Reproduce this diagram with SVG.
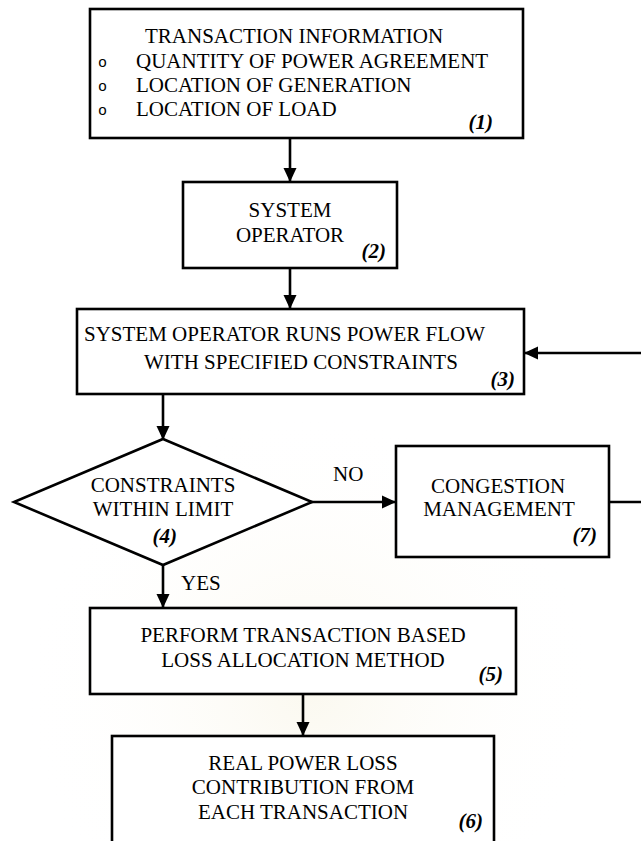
<svg xmlns="http://www.w3.org/2000/svg" width="641" height="841" viewBox="0 0 641 841">
  <defs>
    <style>
      .box { fill: #ffffff; stroke: #000000; stroke-width: 2.6; }
      .t { font-family: "Liberation Serif", "Times New Roman", serif; font-size: 21px; fill: #000000; }
      .c { text-anchor: middle; }
      .n { font-family: "Liberation Serif", "Times New Roman", serif; font-size: 21px; font-weight: bold; font-style: italic; text-anchor: end; fill: #000000; }
      .bul { font-family: "Liberation Mono", "Courier New", monospace; font-size: 15px; fill: #000000; }
      .link { fill: none; stroke: #000000; stroke-width: 2.6; }
    </style>
    <marker id="arrow" markerUnits="userSpaceOnUse" markerWidth="16" markerHeight="14" refX="14" refY="7" orient="auto">
      <path d="M0,0.5 L14,7 L0,13.5 Z" fill="#000000"/>
    </marker>
    <radialGradient id="seal" cx="0.5" cy="0.5" r="0.5">
      <stop offset="0" stop-color="#f5efd8" stop-opacity="0.4"/>
      <stop offset="1" stop-color="#ffffff" stop-opacity="0"/>
    </radialGradient>
  </defs>

  <rect x="0" y="0" width="641" height="841" fill="#ffffff"/>
  <!-- faint background seal -->
  <ellipse cx="310" cy="690" rx="290" ry="280" fill="url(#seal)"/>

  <!-- connectors -->
  <g id="connectors">
    <line class="link" x1="290" y1="138" x2="290" y2="182" marker-end="url(#arrow)"/>
    <line class="link" x1="290" y1="268" x2="290" y2="309" marker-end="url(#arrow)"/>
    <line class="link" x1="163" y1="395" x2="163" y2="440" marker-end="url(#arrow)"/>
    <line class="link" x1="311" y1="502" x2="396" y2="502" marker-end="url(#arrow)"/>
    <line class="link" x1="163" y1="565" x2="163" y2="608" marker-end="url(#arrow)"/>
    <line class="link" x1="303" y1="694" x2="303" y2="736" marker-end="url(#arrow)"/>
    <path class="link" d="M609,502 L665,502 L665,353 L524,353" marker-end="url(#arrow)"/>
    <text class="t" x="333" y="481">NO</text>
    <text class="t" x="181" y="590">YES</text>
  </g>

  <!-- (1) transaction information -->
  <g id="node1">
    <rect class="box" x="90" y="9" width="433" height="129"/>
    <text class="t" x="145" y="43">TRANSACTION INFORMATION</text>
    <text class="bul" x="98" y="67">o</text>
    <text class="bul" x="98" y="91">o</text>
    <text class="bul" x="98" y="115">o</text>
    <text class="t" x="136" y="68">QUANTITY OF POWER AGREEMENT</text>
    <text class="t" x="136" y="92">LOCATION OF GENERATION</text>
    <text class="t" x="136" y="116">LOCATION OF LOAD</text>
    <text class="n" x="493" y="129">(1)</text>
  </g>

  <!-- (2) system operator -->
  <g id="node2">
    <rect class="box" x="183" y="182" width="214" height="86"/>
    <text class="t c" x="290" y="217">SYSTEM</text>
    <text class="t c" x="290" y="242">OPERATOR</text>
    <text class="n" x="386" y="258">(2)</text>
  </g>

  <!-- (3) power flow -->
  <g id="node3">
    <rect class="box" x="77" y="309" width="447" height="85"/>
    <text class="t" x="84" y="341">SYSTEM OPERATOR RUNS POWER FLOW</text>
    <text class="t" x="144" y="369">WITH SPECIFIED CONSTRAINTS</text>
    <text class="n" x="515" y="386">(3)</text>
  </g>

  <!-- (4) decision -->
  <g id="node4">
    <polygon class="box" points="163,439 312,502 163,565 14,502"/>
    <text class="t c" x="163" y="492">CONSTRAINTS</text>
    <text class="t c" x="163" y="516">WITHIN LIMIT</text>
    <text class="n" x="177" y="543">(4)</text>
  </g>

  <!-- (7) congestion management -->
  <g id="node7">
    <rect class="box" x="396" y="446" width="213" height="111"/>
    <text class="t c" x="498" y="493">CONGESTION</text>
    <text class="t c" x="499" y="516">MANAGEMENT</text>
    <text class="n" x="597" y="542">(7)</text>
  </g>

  <!-- (5) loss allocation -->
  <g id="node5">
    <rect class="box" x="90" y="608" width="426" height="86"/>
    <text class="t c" x="303" y="642">PERFORM TRANSACTION BASED</text>
    <text class="t c" x="303" y="667">LOSS ALLOCATION METHOD</text>
    <text class="n" x="503" y="681">(5)</text>
  </g>

  <!-- (6) loss contribution -->
  <g id="node6">
    <rect class="box" x="112" y="736" width="382" height="130"/>
    <text class="t c" x="303" y="770">REAL POWER LOSS</text>
    <text class="t c" x="303" y="794">CONTRIBUTION FROM</text>
    <text class="t c" x="303" y="819">EACH TRANSACTION</text>
    <text class="n" x="483" y="828">(6)</text>
  </g>
</svg>
